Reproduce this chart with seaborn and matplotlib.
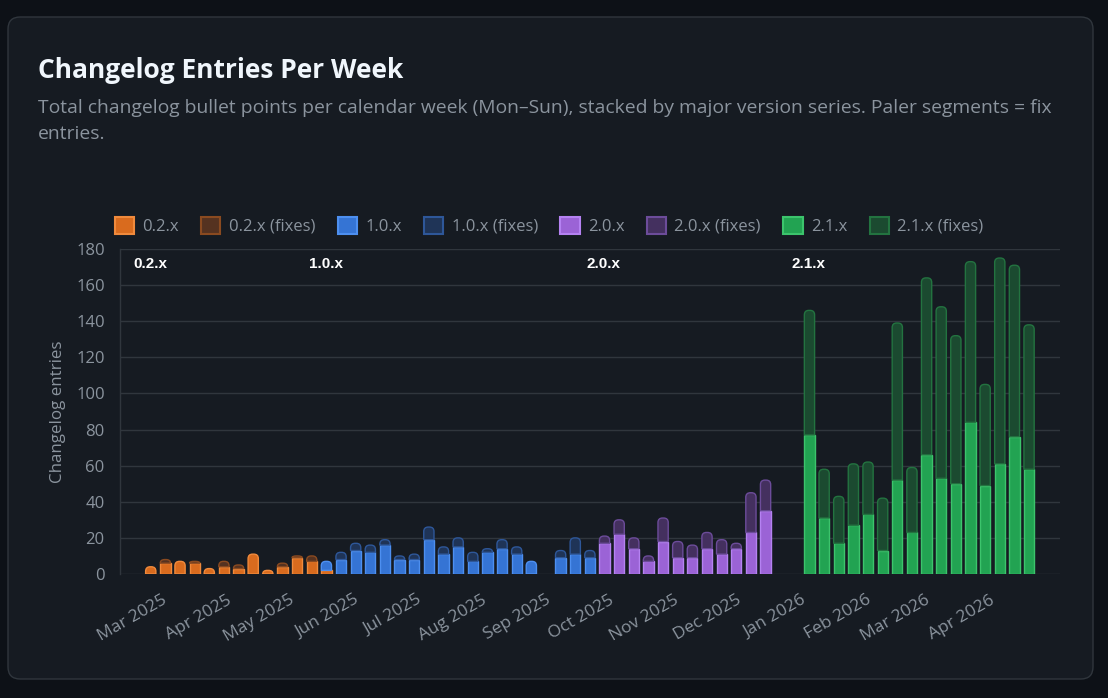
"""
Changelog entries per week, stacked by version series (main + fixes).
"""

import numpy as np
import pandas as pd
import matplotlib
matplotlib.use('Agg')
import matplotlib.pyplot as plt
import matplotlib.dates as mdates
from matplotlib.patches import FancyBboxPatch, PathPatch, Patch
from matplotlib.path import Path
import seaborn as sns


FIRST_WEEK = '2025-02-24'   # Monday of the first calendar week
N_WEEKS = 61

SERIES = ['0.2.x', '1.0.x', '2.0.x', '2.1.x']

# first week index of each series, then main / fix entries per week
S02_START = 0
S02_MAIN = [4, 6, 7, 6, 3, 4, 3, 11, 2, 4, 9, 7, 2]
S02_FIX = [0, 2, 0, 1, 0, 3, 2, 0, 0, 2, 1, 3, 0]

S10_START = 12
S10_MAIN = [5, 8, 13, 12, 16, 8, 8, 19, 11, 15, 7, 12, 14, 11, 7, 0, 9, 11, 9]
S10_FIX = [0, 4, 4, 4, 3, 2, 3, 7, 4, 5, 5, 2, 5, 4, 0, 0, 4, 9, 4]

S20_START = 31
S20_MAIN = [17, 22, 14, 7, 18, 9, 9, 14, 11, 14, 23, 35]
S20_FIX = [4, 8, 6, 3, 13, 9, 7, 9, 8, 3, 22, 17]

S21_START = 45
S21_MAIN = [77, 31, 17, 27, 33, 13, 52, 23, 66, 53, 50, 84, 49, 61, 76, 58]
S21_FIX = [69, 27, 26, 34, 29, 29, 87, 36, 98, 95, 82, 89, 56, 114, 95, 80]

MONTH_TICKS = pd.date_range('2025-03-01', '2026-04-01', freq='MS')

TITLE = 'Changelog Entries Per Week'
SUBTITLE_1 = ('Total changelog bullet points per calendar week (Mon\u2013Sun), stacked by major '
              'version series. Paler segments = fix')
SUBTITLE_2 = 'entries.'

# (face, edge) for main and fixes of each series
COLORS = {
    '0.2.x': (('#d96b1e', '#f08a3c'), ('#553220', '#8a4a20')),
    '1.0.x': (('#3574d4', '#4d8ff0'), ('#1f3457', '#2e5799')),
    '2.0.x': (('#9b63d6', '#b582f2'), ('#44305f', '#6c4c9a')),
    '2.1.x': (('#22a352', '#3cc46c'), ('#1b4a30', '#237340')),
}

BG_OUT = '#0d1117'
BG_CARD = '#161b22'
GRID = '#30363d'
MUTED = '#8b949e'
WHITE = '#f0f6fc'

W, H = 1108, 698


def build_frame():
    weeks = pd.date_range(FIRST_WEEK, periods=N_WEEKS, freq='7D')
    df = pd.DataFrame({'week': weeks, 'x': mdates.date2num(weeks)})
    parts = [(S02_START, S02_MAIN, S02_FIX), (S10_START, S10_MAIN, S10_FIX),
             (S20_START, S20_MAIN, S20_FIX), (S21_START, S21_MAIN, S21_FIX)]
    for name, (start, main, fix) in zip(SERIES, parts):
        m = np.zeros(N_WEEKS)
        f = np.zeros(N_WEEKS)
        m[start:start + len(main)] = main
        f[start:start + len(fix)] = fix
        df[name] = m
        df[name + ' (fixes)'] = f
    return df


def round_top(ax, patch, radius_px):
    """swap a bar rectangle for one with rounded top corners"""
    x0, y0 = patch.get_x(), patch.get_y()
    w, h = patch.get_width(), patch.get_height()
    xl, yl = ax.get_xlim(), ax.get_ylim()
    rx = radius_px * (xl[1] - xl[0]) / ax.bbox.width
    ry = radius_px * (yl[1] - yl[0]) / ax.bbox.height
    rx = min(rx, w / 2)
    ry = min(ry, h)
    x1, y1 = x0 + w, y0 + h
    verts = [(x0, y0), (x0, y1 - ry), (x0, y1), (x0 + rx, y1), (x1 - rx, y1),
             (x1, y1), (x1, y1 - ry), (x1, y0), (x0, y0)]
    codes = [Path.MOVETO, Path.LINETO, Path.CURVE3, Path.CURVE3, Path.LINETO,
             Path.CURVE3, Path.CURVE3, Path.LINETO, Path.CLOSEPOLY]
    new = PathPatch(Path(verts, codes), facecolor=patch.get_facecolor(),
                    edgecolor=patch.get_edgecolor(), linewidth=patch.get_linewidth(),
                    zorder=patch.get_zorder())
    patch.remove()
    ax.add_patch(new)


def main():
    df = build_frame()

    sns.set_theme(style='dark', rc={
        'figure.facecolor': BG_OUT,
        'axes.facecolor': BG_CARD,
        'text.color': WHITE,
        'axes.labelcolor': MUTED,
        'xtick.color': MUTED,
        'ytick.color': MUTED,
    })
    plt.rcParams['font.family'] = ['Open Sans', 'DejaVu Sans']

    fig = plt.figure(figsize=(W / 100, H / 100), dpi=100)
    card = FancyBboxPatch((8 / W, 19 / H), 1085 / W, 662 / H,
                          boxstyle='round,pad=0,rounding_size=0.011',
                          mutation_aspect=W / H, transform=fig.transFigure,
                          facecolor=BG_CARD, edgecolor=GRID, linewidth=1, zorder=-1)
    fig.patches.append(card)

    ax = fig.add_axes([120 / W, 124 / H, 940 / W, 325 / H])
    ax.set_facecolor(BG_CARD)

    layers = []
    for name in SERIES:
        (mf, me), (ff, fe) = COLORS[name]
        layers.append((name, mf, me))
        layers.append((name + ' (fixes)', ff, fe))

    bottom = np.zeros(N_WEEKS)
    top_patch = {}
    for layer, face, edge in layers:
        vals = df[layer].to_numpy()
        keep = vals > 0
        sub = df[keep]
        n_before = len(ax.patches)
        sns.barplot(data=sub, x='x', y=layer, native_scale=True, width=0.7,
                    color=face, saturation=1, edgecolor=edge, linewidth=1,
                    errorbar=None, bottom=bottom[keep], ax=ax, zorder=3)
        for idx, p in zip(np.flatnonzero(keep), ax.patches[n_before:]):
            top_patch[idx] = p
        bottom += vals

    x_lo = mdates.date2num(pd.Timestamp(FIRST_WEEK) - pd.Timedelta(days=14.7))
    x_hi = mdates.date2num(pd.Timestamp(FIRST_WEEK) + pd.Timedelta(days=7 * (N_WEEKS - 1) + 14.8))
    ax.set_xlim(x_lo, x_hi)
    ax.set_ylim(0, 180)

    for p in top_patch.values():
        round_top(ax, p, 4.5)

    ax.set_yticks(range(0, 181, 20))
    ax.set_xticks(mdates.date2num(MONTH_TICKS))
    ax.xaxis.set_major_formatter(mdates.DateFormatter('%b %Y'))
    ax.tick_params(axis='y', length=7, width=1, color=GRID, pad=4, labelsize=12)
    ax.tick_params(axis='x', length=0, pad=13, labelsize=12.5)
    plt.setp(ax.get_xticklabels(), rotation=30, ha='right', rotation_mode='anchor')

    ax.grid(axis='y', color=GRID, linewidth=1, zorder=0)
    ax.grid(axis='x', visible=False)
    for side in ['top', 'right', 'bottom']:
        ax.spines[side].set_visible(False)
    ax.spines['left'].set_color(GRID)
    ax.spines['left'].set_linewidth(1)
    ax.set_xlabel('')
    ax.set_ylabel('Changelog entries', fontsize=12.2, labelpad=7)

    # series start markers
    for name, start in zip(SERIES, [S02_START, S10_START, S20_START, S21_START]):
        xd = mdates.date2num(pd.Timestamp(FIRST_WEEK) + pd.Timedelta(days=7 * start - 8.5))
        ax.text(xd, 171.5, name, ha='left', va='center', fontsize=11,
                fontweight='bold', color='white', family=['Liberation Sans', 'DejaVu Sans'])

    handles = [Patch(facecolor=f, edgecolor=e, linewidth=1.5, label=l) for l, f, e in layers]
    leg = fig.legend(handles=handles, loc='center', bbox_to_anchor=(549 / W, 1 - 226 / H),
                     ncol=8, frameon=False, fontsize=12, handlelength=1.15, handleheight=1.15,
                     handletextpad=0.5, columnspacing=1.35)
    for t in leg.get_texts():
        t.set_color(MUTED)

    fig.text(38 / W, 1 - 78 / H, TITLE, fontsize=19, fontweight='bold',
             color=WHITE, ha='left', va='baseline')
    fig.text(38 / W, 1 - 113 / H, SUBTITLE_1, fontsize=13.9, color=MUTED,
             ha='left', va='baseline')
    fig.text(38 / W, 1 - 139 / H, SUBTITLE_2, fontsize=13.9, color=MUTED,
             ha='left', va='baseline')

    fig.savefig('out.png', dpi=100, facecolor=BG_OUT)
    plt.close(fig)


if __name__ == '__main__':
    main()
